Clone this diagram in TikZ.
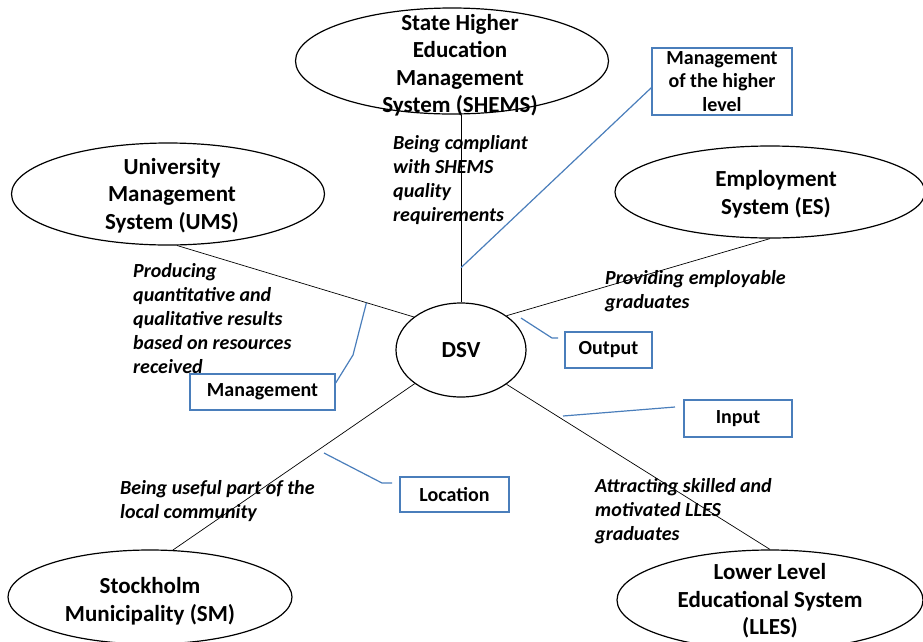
\documentclass[tikz,border=0pt]{standalone}
\usepackage{fontspec}
\setmainfont{Carlito}
\usetikzlibrary{shapes.geometric}
\definecolor{calloutblue}{RGB}{74,126,187}

\begin{document}
\begin{tikzpicture}[x=1pt,y=-1pt,
        sys node/.style={ellipse,draw,line width=1.2pt,inner sep=0pt},
        sys text/.style={font=\fontsize{23}{27.5}\selectfont\bfseries,align=center},
        tag box/.style={rectangle,draw=calloutblue,line width=1.3pt,inner sep=0pt,
            font=\fontsize{20}{23.5}\selectfont\bfseries,align=center},
        role text/.style={anchor=north west,inner sep=0pt,align=left,
            font=\fontsize{20}{24}\selectfont\bfseries\itshape},
        link/.style={draw,line width=0.7pt},
        call/.style={draw=calloutblue,line width=1.2pt}]

    \useasboundingbox (0,0) rectangle (923,641);

    % systems round the department
    \node[sys node, minimum width=130pt, minimum height=94pt, sys text] (dsv) at (461,350) {DSV};
    \node[sys node, minimum width=313pt, minimum height=106pt,
        label={[sys text, xshift=8pt, yshift=-4pt]center:{State Higher\\Education\\Management\\System (SHEMS)}}] (shems) at (452,61) {};
    \node[sys node, minimum width=313pt, minimum height=102pt,
        label={[sys text, xshift=4pt, yshift=-1.5pt]center:{University\\Management\\System (UMS)}}] (ums) at (168,194) {};
    \node[sys node, minimum width=310pt, minimum height=92pt,
        label={[sys text, xshift=6pt, yshift=-2pt]center:{Employment\\System (ES)}}] (es) at (770,192) {};
    \node[sys node, minimum width=284pt, minimum height=94pt,
        label={[sys text, yshift=-4pt]center:{Stockholm\\Municipality (SM)}}] (sm) at (150,597) {};
    \node[sys node, minimum width=306pt, minimum height=100pt,
        label={[sys text, yshift=-1pt]center:{Lower Level\\Educational System\\(LLES)}}] (lles) at (770,600) {};

    % relations
    \draw[link] (dsv.north) -- coordinate[pos=.185] (shemsPt) (dsv.north |- shems.south);
    \draw[link] (dsv.145) -- coordinate[pos=.2] (umsPt) (ums.-80);
    \draw[link] (dsv.37) -- (es.south);
    \draw[link] (dsv.216) -- (sm.64);
    \draw[link] (dsv.-37) -- (lles.north);

    \node[role text] (compliant) at (393,135) {Being compliant\\with SHEMS\\quality\\requirements};
    \node[role text] (producing) at (133,263) {Producing\\quantitative and\\qualitative results\\based on resources\\received};
    \node[role text] (providing) at (605,270) {Providing employable\\graduates};
    \node[role text] (useful) at (120,480) {Being useful part of the\\local community};
    \node[role text] (attracting) at (595,478) {Attracting skilled and\\motivated LLES\\graduates};

    % kinds of relation
    \node[tag box, minimum width=140pt, minimum height=67pt] (higher) at (722,81.5) {Management\\of the higher\\level};
    \node[tag box, minimum width=145pt, minimum height=36pt] (mgmt) at (262.5,392) {Management};
    \node[tag box, minimum width=87pt, minimum height=36pt] (output) at (608.5,350) {Output};
    \node[tag box, minimum width=108pt, minimum height=37pt] (input) at (738,418.5) {Input};
    \node[tag box, minimum width=109pt, minimum height=35pt] (location) at (454.5,494.5) {Location};

    \coordinate (outStart) at (521,318);
    \coordinate (outTip) at (558,338);
    \coordinate (inStart) at (563,416);
    \coordinate (inTip) at (675,407);
    \coordinate (locStart) at (324,453);
    \coordinate (locTip) at (392,483);

    \draw[call] (shemsPt) -- (higher.185);
    \draw[call] (umsPt) -- (353,355) -- (mgmt.7);
    \draw[call] (outStart) -- (552,338) -- (outTip);
    \draw[call] (inStart) -- (inTip);
    \draw[call] (locStart) -- (382,483) -- (locTip);

\end{tikzpicture}
\end{document}
